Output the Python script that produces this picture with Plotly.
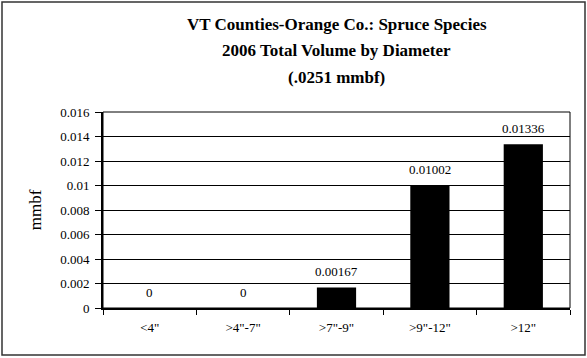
import plotly.graph_objects as go

# Spruce volume by diameter class, Orange County VT, 2006
categories = ['<4"', '>4"-7"', '>7"-9"', '>9"-12"', '>12"']
volume_mmbf = [0, 0, 0.00167, 0.01002, 0.01336]
y_tick_values = [0, 0.002, 0.004, 0.006, 0.008, 0.01, 0.012, 0.014, 0.016]
y_tick_labels = ["0", "0.002", "0.004", "0.006", "0.008", "0.01", "0.012", "0.014", "0.016"]
title_lines = [
    "VT Counties-Orange Co.: Spruce Species",
    "2006 Total Volume by Diameter",
    "(.0251 mmbf)",
]

SERIF = "Liberation Serif, Times New Roman, serif"

W, H = 587, 358
L, R, T, B = 103, 17, 112, 50
pw, ph = W - L - R, H - T - B


def paper_y(py):
    """Convert a pixel row (from the top) to paper y."""
    return (H - B - py) / ph


fig = go.Figure(
    go.Bar(
        x=categories,
        y=volume_mmbf,
        marker=dict(color="black", line=dict(width=0)),
        hoverinfo="x+y",
    )
)

annotations = []
# value labels above each bar
for cat, v in zip(categories, volume_mmbf):
    annotations.append(dict(
        x=cat, y=v, xref="x", yref="y", text=f"{v:g}", showarrow=False,
        yanchor="middle", yshift=16,
        font=dict(family=SERIF, size=13, color="black"),
    ))
# three-line bold title
for i, line in enumerate(title_lines):
    annotations.append(dict(
        x=0.5, xref="paper", xanchor="center",
        y=paper_y(25 + 26 * i), yref="paper", yanchor="middle",
        text=f"<b>{line}</b>", showarrow=False,
        font=dict(family=SERIF, size=17, color="black"),
    ))

fig.update_layout(
    width=W,
    height=H,
    margin=dict(l=L, r=R, t=T, b=B),
    paper_bgcolor="white",
    plot_bgcolor="white",
    bargap=0.58,
    showlegend=False,
    font=dict(family=SERIF, size=13, color="black"),
    annotations=annotations,
    xaxis=dict(
        showline=True,
        linecolor="black",
        linewidth=2,
        ticks="outside",
        tickson="boundaries",
        ticklen=5,
        tickcolor="black",
        showgrid=False,
        ticklabelstandoff=6,
        tickfont=dict(family=SERIF, size=13),
    ),
    yaxis=dict(
        range=[0, 0.016],
        tickvals=y_tick_values,
        ticktext=y_tick_labels,
        showline=True,
        linecolor="black",
        linewidth=2,
        ticks="outside",
        ticklen=6,
        tickcolor="black",
        showgrid=True,
        gridcolor="black",
        gridwidth=1,
        zeroline=False,
        ticklabelstandoff=3,
        tickfont=dict(family=SERIF, size=13),
        title=dict(text="mmbf", font=dict(family=SERIF, size=17), standoff=14),
    ),
    shapes=[
        # plot-area frame
        dict(type="rect", xref="paper", yref="paper", x0=0, x1=1, y0=0, y1=1,
             line=dict(color="black", width=1), layer="above"),
        # outer chart border
        dict(type="rect", xref="paper", yref="paper",
             x0=(2 - L) / pw, x1=(585 - L) / pw,
             y0=paper_y(355), y1=paper_y(2),
             line=dict(color="#333333", width=1.5), layer="below"),
    ],
)

fig.write_html("out.html")
